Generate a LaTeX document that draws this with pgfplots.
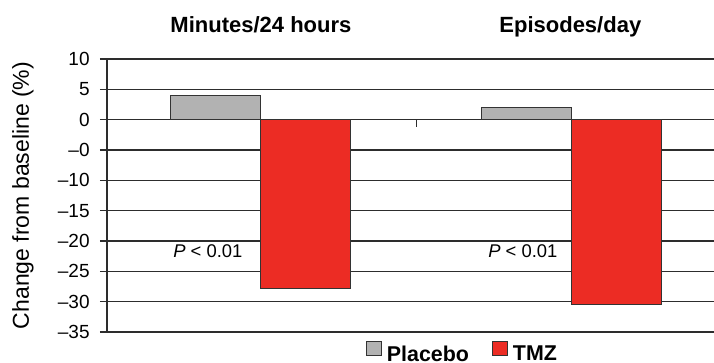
\documentclass[border=0pt]{standalone}
\usepackage{pgfplots}
\pgfplotsset{compat=1.18}
\usepackage{fontspec}
\setmainfont{Liberation Sans}
\definecolor{placebo}{RGB}{178,178,178}
\definecolor{tmz}{RGB}{236,44,36}
\definecolor{gridc}{RGB}{45,45,45}
\begin{document}
\begin{tikzpicture}
\path[use as bounding box] (-53.5pt,-15.5pt) rectangle (303.5pt,166pt);
\begin{axis}[
  scale only axis, width=303.5pt, height=136.5pt,
  at={(0,0)}, anchor=south west,
  xmin=-0.495, xmax=1.457, ymin=-35, ymax=10,
  clip=false,
  axis y line*=left, axis x line*=middle,
  x axis line style={-, draw=gridc, line width=0.6pt},
  y axis line style={-, draw=gridc, line width=0.6pt},
  xtick={0.5}, xticklabels={},
  ytick={-35,-30,-25,-20,-15,-10,-5,0,5,10},
  yticklabels={–35,–30,–25,–20,–15,–10,–0,0,5,10},
  tick align=outside,
  major tick length=3.5pt,
  tick style={draw=gridc, line width=0.6pt},
  ymajorgrids,
  grid style={draw=gridc, line width=0.6pt},
  yticklabel style={font=\fontsize{9.5}{11}\selectfont, inner sep=0pt, xshift=-5pt},
  ybar=0pt, bar width=45pt,
  legend style={at={(0.588,-0.084)}, anchor=center, draw=none, fill=none,
    legend columns=2, font=\bfseries\fontsize{10.7}{12}\selectfont,
    nodes={inner sep=2.5pt},
    /tikz/every even column/.append style={column sep=9pt}},
]
\addplot[fill=placebo, draw=black!80, line width=0.5pt,
  legend image code/.code={\draw[fill=placebo, draw=black!80, line width=0.5pt] (0pt,-0.3pt) rectangle (7.5pt,7pt);}]
  coordinates {(0,4) (1,2)};
\addlegendentry{Placebo}
\addplot[fill=tmz, draw=black!80, line width=0.5pt,
  legend image code/.code={\draw[fill=tmz, draw=black!80, line width=0.5pt] (0pt,-0.3pt) rectangle (7.5pt,7pt);}]
  coordinates {(0,-27.8) (1,-30.4)};
\addlegendentry{TMZ}
\node[anchor=center, rotate=90, font=\fontsize{11.5}{13}\selectfont] at ([xshift=-42pt]rel axis cs:0,0.5) {Change from baseline (\%)};
\node[anchor=west, inner sep=0pt, font=\fontsize{9.2}{11}\selectfont] at (axis cs:-0.283,-21.6) {\textit{P} < 0.01};
\node[anchor=west, inner sep=0pt, font=\fontsize{9.2}{11}\selectfont] at (axis cs:0.73,-21.6) {\textit{P} < 0.01};
\node[font=\bfseries\fontsize{11}{13}\selectfont, anchor=base, inner sep=0pt] at ([yshift=13pt]axis cs:0,10) {Minutes/24 hours};
\node[font=\bfseries\fontsize{11}{13}\selectfont, anchor=base, inner sep=0pt] at ([yshift=13pt]axis cs:0.995,10) {Episodes/day};
\end{axis}
\end{tikzpicture}
\end{document}
